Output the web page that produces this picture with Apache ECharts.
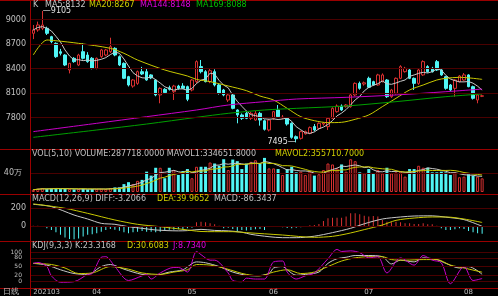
<!DOCTYPE html>
<html><head><meta charset="utf-8">
<script src="https://cdn.jsdelivr.net/npm/echarts@6/dist/echarts.min.js"></script>
<style>html,body{margin:0;padding:0;background:#000;}#c{width:498px;height:296px;}</style>
</head><body><div id="c"></div>
<script>
const dates = [
'20210315','20210316','20210317','20210318','20210319','20210322','20210323','20210324','20210325','20210326','20210329','20210330','20210331',
'20210401','20210402','20210406','20210407','20210408','20210409','20210412','20210413','20210414','20210415','20210416','20210419','20210420','20210421','20210422','20210423','20210426','20210427','20210428','20210429','20210430',
'20210506','20210507','20210510','20210511','20210512','20210513','20210514','20210517','20210518','20210519','20210520','20210521','20210524','20210525','20210526','20210527','20210528','20210531',
'20210601','20210602','20210603','20210604','20210607','20210608','20210609','20210610','20210611','20210615','20210616','20210617','20210618','20210621','20210622','20210623','20210624','20210625','20210628','20210629','20210630',
'20210701','20210702','20210705','20210706','20210707','20210708','20210709','20210712','20210713','20210714','20210715','20210716','20210719','20210720','20210721','20210722','20210723','20210726','20210727','20210728','20210729','20210730',
'20210802','20210803','20210804','20210805','20210806'];
const tickLabels = {0:'202103',13:'04',34:'05',52:'06',73:'07',95:'08'};
// [open, close, low, high]
const ohlc = [
[8831,8872,8760,8933],[8872,8933,8850,8974],[8892,8933,8870,9105],[8892,8831,8810,8912],[8790,8729,8710,8800],
[8708,8545,8530,8720],[8606,8586,8560,8640],[8565,8443,8430,8575],[8382,8463,8340,8470],[8525,8484,8470,8540],
[8443,8565,8430,8580],[8606,8525,8510,8708],[8565,8484,8470,8600],[8525,8402,8390,8540],[8402,8525,8390,8535],
[8545,8627,8530,8640],[8565,8627,8550,8640],[8606,8667,8590,8777],[8647,8565,8550,8660],[8545,8443,8430,8560],
[8463,8280,8270,8475],[8300,8198,8180,8310],[8185,8259,8165,8270],[8218,8361,8200,8375],[8361,8333,8320,8420],
[8361,8259,8250,8400],[8321,8285,8270,8330],[8259,8076,8060,8270],[8076,8157,7974,8170],[8145,8105,8090,8160],
[8165,8145,8130,8190],[8116,8185,8014,8200],[8185,8157,8140,8200],[8185,8157,8150,8220],[8178,8023,8000,8190],
[8137,8259,8120,8270],[8239,8484,8220,8500],[8423,8361,8340,8504],[8361,8239,8230,8380],[8239,8373,8220,8400],
[8361,8198,8180,8390],[8198,8096,8080,8210],[8137,8076,8060,8150],[8014,8076,7990,8090],[8076,7912,7900,8090],
[7892,7831,7729,7900],[7831,7790,7770,7850],[7851,7790,7780,7870],[7790,7851,7770,7870],[7769,7851,7760,7880],
[7851,7769,7700,7870],[7760,7655,7640,7775],[7647,7769,7630,7780],[7790,7871,7770,7880],[7892,7810,7800,7953],
[7795,7805,7780,7830],[7790,7720,7700,7800],[7729,7557,7540,7740],[7565,7540,7495,7580],[7545,7627,7530,7640],
[7600,7627,7590,7640],[7606,7676,7595,7690],[7690,7647,7630,7720],[7667,7729,7650,7740],[7720,7733,7700,7745],
[7688,7790,7647,7800],[7790,7912,7780,7925],[7871,7940,7860,7960],[7940,7892,7880,7960],[7933,7953,7920,7965],
[7933,8076,7920,8090],[8076,8218,8060,8230],[8218,8157,8140,8240],[8210,8225,8190,8240],[8280,8170,8160,8300],
[8239,8198,8190,8250],[8198,8321,8190,8335],[8239,8321,8230,8340],[8259,8055,8040,8270],[8055,8137,8040,8150],
[8096,8280,8080,8290],[8280,8423,8270,8440],[8361,8402,8350,8420],[8382,8280,8270,8395],[8280,8218,8137,8290],
[8218,8382,8200,8395],[8321,8484,8310,8500],[8423,8361,8350,8440],[8402,8361,8350,8420],[8484,8382,8370,8504],
[8382,8321,8310,8400],[8300,8157,8140,8310],[8198,8137,8120,8210],[8157,8259,8055,8270],[8239,8308,8230,8320],
[8259,8321,8250,8345],[8321,8178,8170,8330],[8178,8035,8020,8190],[8014,8076,7974,8090],[8060,8066,8050,8080]];
const volumes = [
48000,69000,83000,62000,76000,83000,62000,69000,62000,55000,
62000,69000,55000,62000,62000,69000,62000,83000,97000,97000,
166000,207000,166000,235000,255000,428000,345000,510000,510000,290000,
510000,462000,359000,442000,483000,290000,531000,531000,531000,621000,
600000,552000,690000,462000,683000,649000,483000,600000,635000,669000,
600000,718000,497000,497000,483000,359000,483000,531000,414000,428000,
359000,428000,345000,373000,462000,600000,580000,497000,580000,428000,
690000,649000,414000,393000,483000,393000,462000,393000,511000,393000,
414000,428000,324000,483000,483000,552000,511000,511000,414000,414000,
428000,414000,359000,414000,311000,324000,373000,345000,324000,287718];
// moving averages: [index, value]
const ma20Pts = [[0,8565],[3,8749],[5,8740],[10,8708],[17,8647],[20,8586],[23,8504],[29,8382],[34,8308],[36,8267],[39,8239],[43,8186],[47,8129],[50,8063],[53,8014],[56,7912],[59,7810],[62,7761],[65,7737],[68,7741],[71,7778],[74,7831],[77,7933],[80,8035],[83,8137],[86,8198],[89,8259],[91,8280],[94,8292],[99,8267]];
const ma144Pts = [[0,7627],[14,7729],[25,7810],[36,7892],[43,7953],[51,7994],[58,8026],[69,8047],[80,8076],[91,8116],[99,8148]];
const ma169Pts = [[0,7557],[14,7647],[25,7720],[36,7802],[43,7851],[51,7892],[58,7912],[69,7941],[80,7994],[91,8055],[99,8088]];
const macdHist = [4,2,-4,-26,-45,-72,-100,-130,-147,-150,-140,-120,-100,-94,-83,-64,-45,-34,-41,-53,
-72,-83,-72,-64,-57,-64,-64,-72,-64,-49,-41,-41,-38,-45,-26,-19,41,49,41,30,
19,4,-26,-19,-34,-57,-45,-50,-45,-38,-34,-45,-8,0,-2,-15,-23,-26,-19,-15,
-4,8,11,23,57,87,94,94,94,106,143,143,132,117,106,113,106,68,49,41,
49,41,30,30,23,23,30,19,19,4,-26,-45,-45,-38,-26,-34,-57,-72,-83,-86.34];
const diffPts = [[0,245],[4,219],[9,124],[12,79],[15,30],[18,19],[21,-8],[24,-26],[27,-45],[32,-55],[34,-52],[37,-38],[40,-50],[43,-55],[46,-70],[48,-94],[52,-121],[55,-132],[58,-132],[62,-115],[66,-75],[70,-26],[73,25],[77,79],[81,102],[84,113],[88,115],[91,100],[95,72],[99,-3.2066]];
const deaPts = [[0,250],[7,200],[12,143],[18,68],[23,19],[28,-8],[33,-38],[37,-62],[40,-64],[44,-64],[47,-75],[55,-102],[62,-128],[66,-117],[69,-90],[73,-41],[77,11],[80,64],[84,90],[88,102],[91,102],[95,79],[99,39.9652]];
const kPts = [[0,61],[3,55],[6,39],[9,26],[12,23],[15,50],[17,57],[20,41],[24,23],[27,20],[30,31],[33,39],[36,66],[38,63],[41,50],[44,31],[47,20],[49,18],[52,26],[53,45],[55,50],[56,39],[58,20],[60,23],[63,31],[65,61],[67,77],[69,82],[71,88],[74,88],[77,84],[79,59],[81,72],[84,66],[86,80],[89,74],[91,61],[94,45],[96,50],[99,23.3168]];
const dPts = [[0,61],[4,57],[7,45],[10,26],[13,28],[17,50],[21,41],[24,28],[28,23],[31,31],[34,39],[36,57],[39,55],[42,45],[45,31],[47,23],[50,18],[53,31],[56,39],[59,26],[62,31],[65,50],[68,69],[71,80],[74,84],[77,84],[79,74],[82,72],[86,74],[89,74],[92,55],[95,45],[99,30.6083]];
const jPts = [[0,61],[1,64],[3,50],[4,18],[6,-4],[9,-2],[12,23],[13,26],[15,82],[16,84],[18,50],[21,2],[24,18],[25,23],[26,7],[28,28],[31,47],[32,47],[34,31],[36,102],[37,91],[39,72],[40,72],[43,28],[44,2],[46,-2],[47,10],[49,7],[51,7],[53,66],[55,69],[56,31],[58,7],[60,18],[62,28],[65,77],[67,109],[68,102],[70,104],[72,98],[74,80],[76,84],[78,28],[81,80],[84,55],[86,88],[88,72],[90,63],[92,-9],[95,50],[97,2],[99,8.734]];
const priceTicks = [7800,8100,8400,8700,9000];
const volTicks = [400000];
const macdTicks = [0,200];
const kdjTicks = [0,20,50,80,100];

const N = dates.length;
const cats = dates.concat(['', '', '']);
const RED = '#d83030', CYAN = '#50f5f5', WHITE = '#c8c8c8', YEL = '#c8c800', MAG = '#c800c8', GRN = '#00a000';
const GRIDC = '#4a0000', SEPC = '#9a0000', TXT = '#c0c0c0';
const FONT = 'DejaVu Sans';
const closes = ohlc.map(d => d[1]);
function sma(arr, n) { return arr.map((v, i) => { const s = arr.slice(Math.max(0, i - n + 1), i + 1); return s.reduce((a, b) => a + b, 0) / s.length; }); }
function sparse(pts) { const a = new Array(N).fill(null); pts.forEach(p => { a[p[0]] = p[1]; }); return a; }
const ma5 = sma(closes, 5);
const vol5 = sma(volumes, 5), vol10 = sma(volumes, 10);
const isUp = ohlc.map(d => d[1] >= d[0]);

const chart = echarts.init(document.getElementById('c'), null, {renderer: 'canvas'});
function gl(vals) { return {silent: true, symbol: 'none', animation: false, label: {show: false}, lineStyle: {color: GRIDC, width: 1, type: 'solid'}, data: vals.map(v => ({yAxis: v}))}; }
function xa(i, show) {
  return {type: 'category', gridIndex: i, data: cats, boundaryGap: true, show: show,
    axisLine: {show: false}, axisTick: {show: false}, splitLine: {show: false},
    axisLabel: show ? {interval: (idx) => tickLabels[idx] !== undefined, formatter: (v, idx) => tickLabels[idx] || '', color: TXT, fontSize: 7, fontFamily: FONT, align: 'left', margin: 4} : {show: false}};
}
function ya(i, min, max, ticks, fmt, fs, margin) {
  return {type: 'value', gridIndex: i, min: min, max: max, scale: true, position: 'left',
    axisLine: {show: false}, axisTick: {show: false}, splitLine: {show: false},
    axisLabel: {customValues: ticks, formatter: fmt, color: TXT, fontSize: fs, fontFamily: FONT, margin: margin, hideOverlap: false, showMinLabel: true, showMaxLabel: true}};
}
function line(name, data, color, xi, sm) {
  return {name: name, type: 'line', xAxisIndex: xi, yAxisIndex: xi, data: data, symbol: 'none', connectNulls: true, smooth: sm ? 0.3 : false, lineStyle: {color: color, width: 1}, itemStyle: {color: color}, z: 3};
}
function gridSeries(xi, vals) {
  return {type: 'line', xAxisIndex: xi, yAxisIndex: xi, data: new Array(N).fill(null), symbol: 'none', z: 0, markLine: gl(vals)};
}
function txt(x, y, s, c, fs) { return {type: 'text', x: x, y: y, silent: true, style: {text: s, fill: c, font: (fs || 8) + 'px "' + FONT + '"', verticalAlign: 'middle'}}; }
function hline(y) { return {type: 'rect', silent: true, shape: {x: 0, y: y, width: 498, height: 1}, style: {fill: SEPC}}; }

const option = {
  backgroundColor: '#000',
  animation: false,
  grid: [
    {left: 31, right: 0, top: 1, height: 148},
    {left: 31, right: 0, top: 149, height: 45},
    {left: 31, right: 0, top: 194, height: 47},
    {left: 31, right: 0, top: 241, height: 47}
  ],
  xAxis: [xa(0, false), xa(1, false), xa(2, false), xa(3, true)],
  yAxis: [
    ya(0, 7414.3, 9226.5, priceTicks, v => String(v), 8, 5),
    ya(1, -42105, 905263, volTicks, v => (v / 10000) + '万', 8, 9),
    ya(2, -169.5, 361.6, macdTicks, v => String(v), 8, 5),
    ya(3, -13.5, 138, kdjTicks, v => String(v), 6, 9)
  ],
  series: [
    gridSeries(0, priceTicks), gridSeries(1, volTicks), gridSeries(2, macdTicks), gridSeries(3, kdjTicks),
    {type: 'candlestick', xAxisIndex: 0, yAxisIndex: 0, data: ohlc, barWidth: 3, z: 2,
      itemStyle: {color: '#000', color0: CYAN, borderColor: RED, borderColor0: CYAN, borderWidth: 1},
      markPoint: {symbol: 'circle', symbolSize: 1, itemStyle: {color: 'rgba(0,0,0,0)'}, silent: true, animation: false,
        data: [
          {type: 'max', valueDim: 'highest', label: {show: true, position: 'right', distance: 0, color: '#e0e0e0', fontSize: 8, fontFamily: FONT, formatter: p => '\u2014' + p.value}},
          {type: 'min', valueDim: 'lowest', label: {show: true, position: 'left', distance: 0, color: '#e0e0e0', fontSize: 8, fontFamily: FONT, formatter: p => p.value + '\u2014'}}
        ]}},
    line('MA5', ma5, WHITE, 0, false),
    line('MA20', sparse(ma20Pts), YEL, 0, true),
    line('MA144', sparse(ma144Pts), MAG, 0, true),
    line('MA169', sparse(ma169Pts), GRN, 0, true),
    {type: 'bar', xAxisIndex: 1, yAxisIndex: 1, barWidth: 3, z: 2,
      data: volumes.map((v, i) => ({value: v, itemStyle: isUp[i] ? {color: '#000', borderColor: RED, borderWidth: 1} : {color: CYAN, borderColor: CYAN, borderWidth: 0}}))},
    line('MAVOL1', vol5, WHITE, 1, false),
    line('MAVOL2', vol10, YEL, 1, false),
    {type: 'bar', xAxisIndex: 2, yAxisIndex: 2, barWidth: 1, z: 2,
      data: macdHist.map(v => ({value: v, itemStyle: {color: v >= 0 ? RED : CYAN}}))},
    line('DIFF', sparse(diffPts), WHITE, 2, true),
    line('DEA', sparse(deaPts), YEL, 2, true),
    line('K', sparse(kPts), WHITE, 3, true),
    line('D', sparse(dPts), YEL, 3, true),
    line('J', sparse(jPts), MAG, 3, true)
  ],
  graphic: [
    hline(0), hline(149), hline(194), hline(241), hline(288),
    {type: 'rect', silent: true, shape: {x: 30, y: 0, width: 1, height: 296}, style: {fill: SEPC}},
    txt(33, 5, 'K', TXT), txt(45, 5, 'MA5:8132', WHITE), txt(89, 5, 'MA20:8267', '#d0d000'), txt(140, 5, 'MA144:8148', '#e000e0'), txt(196, 5, 'MA169:8088', '#00c000'),
    txt(32, 154, 'VOL(5,10) VOLUME:287718.0000 MAVOL1:334651.8000', TXT), txt(275, 154, 'MAVOL2:355710.7000', '#d0d000'),
    txt(32, 199, 'MACD(12,26,9) DIFF:-3.2066', TXT), txt(157, 199, 'DEA:39.9652', '#d0d000'), txt(214, 199, 'MACD:-86.3437', TXT),
    txt(32, 246, 'KDJ(9,3,3) K:23.3168', TXT), txt(127, 246, 'D:30.6083', '#d0d000'), txt(173, 246, 'J:8.7340', '#e000e0'),
    txt(3, 292, '日线', TXT, 8)
  ]
};
chart.setOption(option);
</script></body></html>
